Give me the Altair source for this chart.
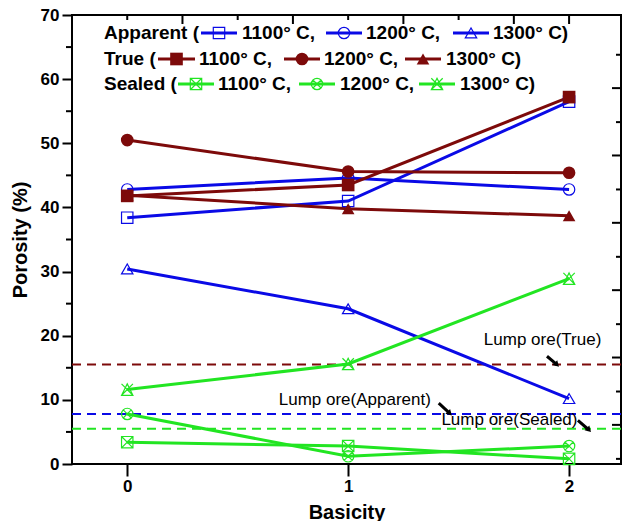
import altair as alt
import pandas as pd

# ---------------- data ----------------
basicity = [0, 1, 2]
temps = ["1100° C", "1200° C", "1300° C"]

apparent_1100 = [38.4, 41.0, 56.5]
apparent_1200 = [42.8, 44.6, 42.8]
apparent_1300 = [30.4, 24.2, 10.2]
true_1100 = [41.8, 43.5, 57.2]
true_1200 = [50.5, 45.6, 45.4]
true_1300 = [41.9, 39.8, 38.7]
sealed_1100 = [3.4, 2.8, 0.8]
sealed_1200 = [7.8, 1.2, 2.8]
sealed_1300 = [11.6, 15.6, 28.9]

lump_levels = [15.5, 7.8, 5.5]          # True, Apparent, Sealed
lump_labels = ["Lump ore(True)", "Lump ore(Apparent)", "Lump ore(Sealed)"]
label_x = [1.88, 1.03, 1.73]
label_y = [19.4, 9.9, 6.9]
arrow_x = [1.90, 1.41, 2.04]
arrow_y = [16.8, 9.5, 6.8]
arrow_x2 = [1.945, 1.46, 2.09]
arrow_y2 = [15.5, 7.9, 5.3]

y_major = [0, 10, 20, 30, 40, 50, 60, 70]
y_minor = [5, 15, 25, 35, 45, 55, 65]
x_major = [0, 1, 2]
top_long = [0.25, 0.75, 1.25, 1.75, 2.0]
top_short = [0, 0.5, 1.0, 1.5]
right_long = [58.6, 48.1, 37.6, 27.1, 16.6, 6.1]
right_short = [63.8, 53.3, 42.8, 32.3, 21.8, 11.3, 0.8]

BLUE = "#0a0ae6"
RED = "#7d0a0a"
GREEN = "#22e522"
FONT = "Liberation Sans"

SQX = "M-1,-1H1V1H-1Z M-1,-1L1,1 M1,-1L-1,1"
CIRX = "M1,0A1,1 0 1,1 -1,0A1,1 0 1,1 1,0Z M-0.71,-0.71L0.71,0.71 M0.71,-0.71L-0.71,0.71"
TRIX = "M0,-1L1,1L-1,1Z M-1,-1L1,1 M1,-1L-1,1"

series = [
    ("Apparent", temps[0], apparent_1100, BLUE, "square", False),
    ("Apparent", temps[1], apparent_1200, BLUE, "circle", False),
    ("Apparent", temps[2], apparent_1300, BLUE, "triangle-up", False),
    ("True", temps[0], true_1100, RED, "square", True),
    ("True", temps[1], true_1200, RED, "circle", True),
    ("True", temps[2], true_1300, RED, "triangle-up", True),
    ("Sealed", temps[0], sealed_1100, GREEN, SQX, False),
    ("Sealed", temps[1], sealed_1200, GREEN, CIRX, False),
    ("Sealed", temps[2], sealed_1300, GREEN, TRIX, False),
]

rows = []
for g, t, vals, col, shp, fil in series:
    for b, v in zip(basicity, vals):
        rows.append({"x": b, "y": v, "series": f"{g} {t}", "group": g,
                     "color": col, "shape": shp})
df = pd.DataFrame(rows)
names = [f"{g} {t}" for g, t, *_ in series]
colors = [s[3] for s in series]
shapes = [s[4] for s in series]

W, H = 549, 449
xscale = alt.Scale(domain=[-0.25, 2.235], nice=False, zero=False)
yscale = alt.Scale(domain=[0, 70], nice=False, zero=False)
xaxis = alt.Axis(values=x_major, tickSize=12, tickWidth=2, tickColor="black",
                 labelFontSize=17, labelFontWeight="bold", labelFont=FONT,
                 labelColor="black", labelPadding=2, domain=False, grid=False,
                 title="Basicity", titleFontSize=20, titleFontWeight="bold",
                 titleFont=FONT, titleColor="black", titlePadding=8)
yaxis = alt.Axis(values=y_major, tickSize=10, tickWidth=2, tickColor="black",
                 labelFontSize=17, labelFontWeight="bold", labelFont=FONT,
                 labelColor="black", labelPadding=3, domain=False, grid=False,
                 title="Porosity (%)", titleFontSize=20, titleFontWeight="bold",
                 titleFont=FONT, titleColor="black", titlePadding=10)
X = alt.X("x:Q", scale=xscale, axis=xaxis)
Y = alt.Y("y:Q", scale=yscale, axis=yaxis)

color_enc = alt.Color("series:N", scale=alt.Scale(domain=names, range=colors), legend=None)
shape_enc = alt.Shape("series:N", scale=alt.Scale(domain=names, range=shapes), legend=None)

lines = alt.Chart(df).mark_line(strokeWidth=3).encode(x=X, y=Y, color=color_enc)

pts_open = alt.Chart(df[df.group != "True"]).mark_point(
    filled=False, size=130, strokeWidth=1.2, opacity=1).encode(
    x=X, y=Y, color=color_enc, shape=shape_enc)
pts_fill = alt.Chart(df[df.group == "True"]).mark_point(
    filled=True, size=160, opacity=1).encode(
    x=X, y=Y, color=color_enc, shape=shape_enc)

lump_df = pd.DataFrame({"y": lump_levels, "color": [RED, BLUE, GREEN]})
lump = alt.Chart(lump_df).mark_rule(strokeWidth=2, strokeDash=[9, 6]).encode(
    y=Y, color=alt.Color("color:N", scale=None))

ann_df = pd.DataFrame({"x": label_x, "y": label_y, "t": lump_labels})
ann = alt.Chart(ann_df).mark_text(font=FONT, fontSize=17, color="black",
                                  align="center", baseline="middle").encode(
    x=X, y=Y, text="t:N")

arr_df = pd.DataFrame({"x": arrow_x, "y": arrow_y, "x2": arrow_x2, "y2": arrow_y2})
arr_line = alt.Chart(arr_df).mark_rule(strokeWidth=3, color="black").encode(
    x=X, y=Y, x2="x2:Q", y2="y2:Q")
arr_head = alt.Chart(arr_df).mark_point(shape="triangle-up", filled=True, size=45,
                                        color="black", angle=135, opacity=1).encode(
    x=alt.X("x2:Q", scale=xscale, axis=xaxis), y=alt.Y("y2:Q", scale=yscale, axis=yaxis))

# minor / mirror ticks
ymin_df = pd.DataFrame({"y": y_minor})
ymin = alt.Chart(ymin_df).mark_rule(strokeWidth=2, color="black").encode(
    y=Y, x=alt.value(-6), x2=alt.value(0))
tl = alt.Chart(pd.DataFrame({"x": top_long})).mark_rule(strokeWidth=2, color="black").encode(
    x=X, y=alt.value(0), y2=alt.value(9))
ts = alt.Chart(pd.DataFrame({"x": top_short})).mark_rule(strokeWidth=2, color="black").encode(
    x=X, y=alt.value(0), y2=alt.value(5))
rl = alt.Chart(pd.DataFrame({"y": right_long})).mark_rule(strokeWidth=2, color="black").encode(
    y=Y, x=alt.value(W), x2=alt.value(W - 9))
rs = alt.Chart(pd.DataFrame({"y": right_short})).mark_rule(strokeWidth=2, color="black").encode(
    y=Y, x=alt.value(W), x2=alt.value(W - 5))

# ---------------- legend (pixel layout inside plot) ----------------
row_y = [18, 44, 69]
prefix = ["Apparent (", "True (", "Sealed ("]
prefix_x = [32, 32, 32]
item_text_x = [[170, 294, 421], [127, 252, 374], [146, 268, 388]]
item_line_x = [[(129, 165), (254, 290), (381, 417)],
               [(86, 123), (212, 248), (333, 369)],
               [(106, 142), (227, 263), (347, 383)]]
suffix = ["1100° C,", "1200° C,", "1300° C)"]

lt, ll, lm = [], [], []
for r in range(3):
    lt.append({"lx": prefix_x[r], "ly": row_y[r], "t": prefix[r]})
    for k in range(3):
        s = series[r * 3 + k]
        lt.append({"lx": item_text_x[r][k], "ly": row_y[r], "t": suffix[k]})
        a, b = item_line_x[r][k]
        ll.append({"lx": a, "lx2": b, "ly": row_y[r], "color": s[3]})
        lm.append({"lx": (a + b) / 2, "ly": row_y[r], "color": s[3], "shape": s[4],
                   "filled": s[5]})
lt = pd.DataFrame(lt); ll = pd.DataFrame(ll); lm = pd.DataFrame(lm)
LX = alt.X("lx:Q", scale=None)
LY = alt.Y("ly:Q", scale=None)
leg_text = alt.Chart(lt).mark_text(font=FONT, fontSize=19, fontWeight="bold", color="black",
                                   align="left", baseline="middle").encode(x=LX, y=LY, text="t:N")
leg_line = alt.Chart(ll).mark_rule(strokeWidth=3).encode(
    x=LX, x2="lx2:Q", y=LY, color=alt.Color("color:N", scale=None))
leg_open = alt.Chart(lm[~lm.filled]).mark_point(filled=False, size=130, strokeWidth=1.2,
                                                 opacity=1).encode(
    x=LX, y=LY, color=alt.Color("color:N", scale=None), shape=alt.Shape("shape:N", scale=None))
leg_fill = alt.Chart(lm[lm.filled]).mark_point(filled=True, size=160, opacity=1).encode(
    x=LX, y=LY, color=alt.Color("color:N", scale=None), shape=alt.Shape("shape:N", scale=None))

chart = alt.layer(
    lump, lines, pts_open, pts_fill, ann, arr_line, arr_head,
    ymin, tl, ts, rl, rs, leg_line, leg_open, leg_fill, leg_text
).properties(
    width=W, height=H, autosize="none",
    padding={"left": 72, "top": 15, "right": 3, "bottom": 57},
    background="white",
).configure_view(stroke="black", strokeWidth=2)

chart.save("out.html", embed_options={"renderer": "svg", "actions": False})
